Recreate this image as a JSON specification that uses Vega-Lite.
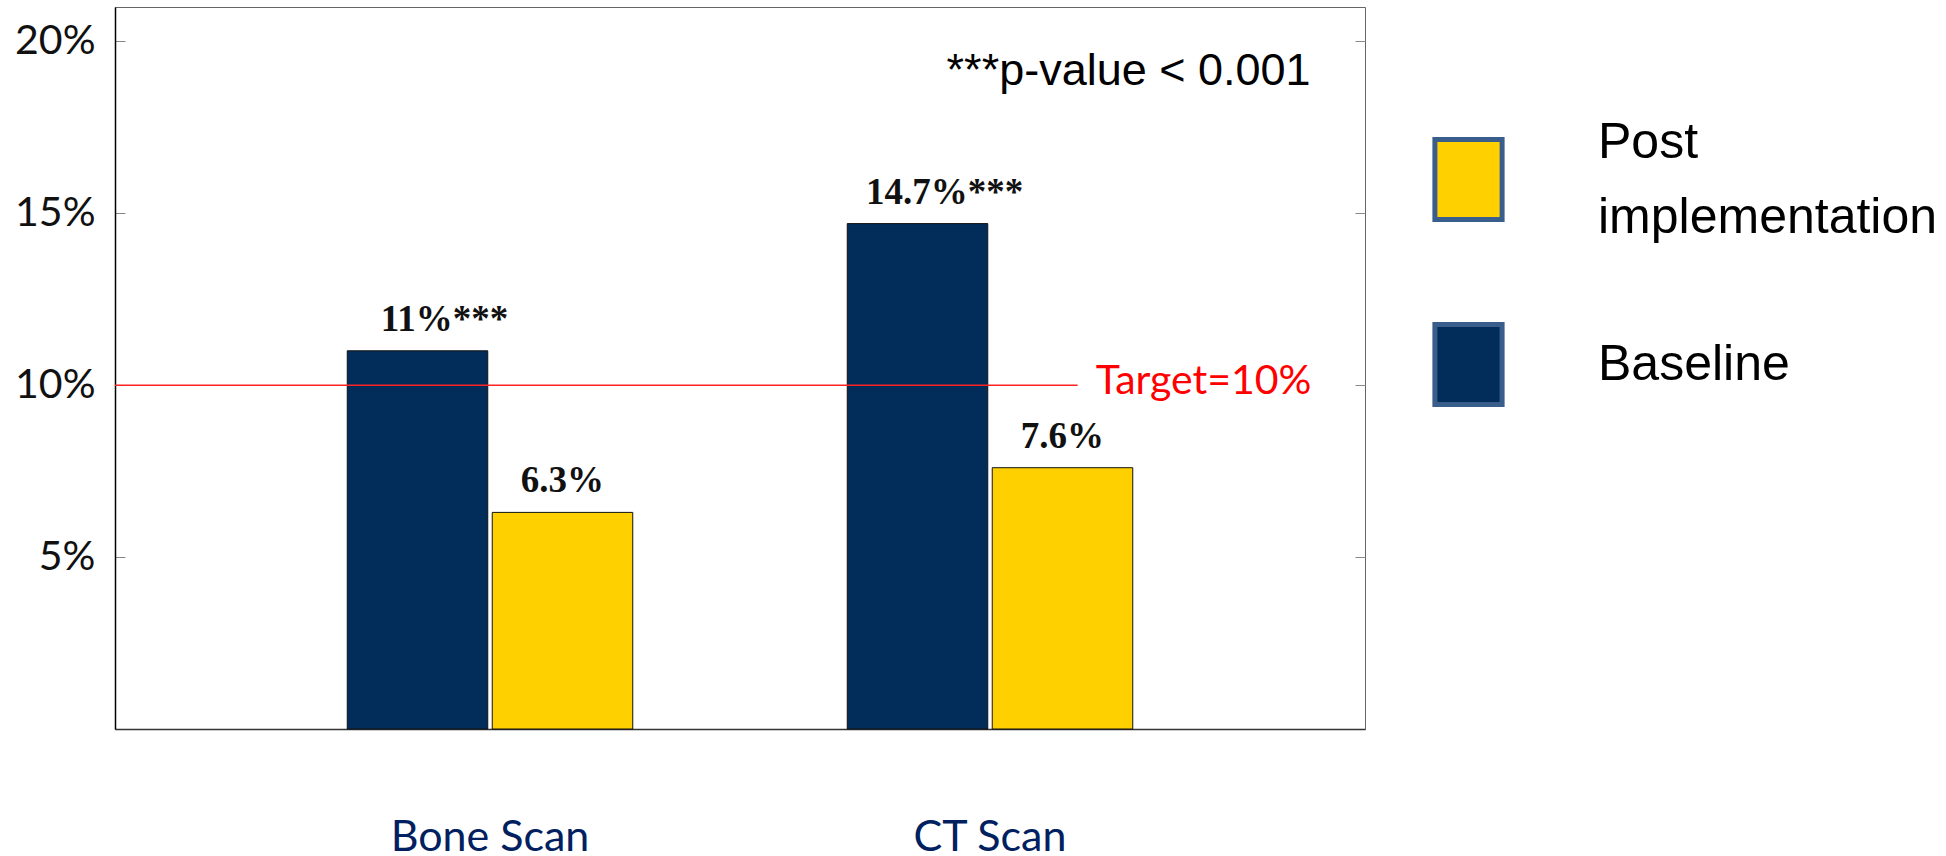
{
  "$schema": "https://vega.github.io/schema/vega-lite/v6.json",
  "width": 1250,
  "height": 722,
  "autosize": {"type": "none"},
  "padding": {"left": 115, "top": 7, "right": 581, "bottom": 127},
  "background": "white",
  "config": {
    "view": {"stroke": "#666", "strokeWidth": 1},
    "axisX": {"labelExpr": "datum.label == 'Bone Scan' ? 'Bone Scan\u00a0\u00a0\u00a0\u00a0\u00a0' : datum.label"}
  },
  "datasets": {
    "bars": [
      {"scan": "Bone Scan", "group": "Baseline", "value": 11, "sig": "***"},
      {"scan": "Bone Scan", "group": "Post implementation", "value": 6.3, "sig": ""},
      {"scan": "CT Scan", "group": "Baseline", "value": 14.7, "sig": "***"},
      {"scan": "CT Scan", "group": "Post implementation", "value": 7.6, "sig": ""}
    ],
    "target": [{"label": "Target=10%", "value": 10}],
    "note": [{"label": "***p-value < 0.001", "value": 18.73}]
  },
  "resolve": {"axis": {"y": "independent"}},
  "layer": [
    {
      "data": {"name": "bars"},
      "mark": {"type": "bar", "stroke": "#111", "strokeWidth": 1},
      "encoding": {
        "x": {
          "field": "scan", "type": "nominal", "title": null,
          "scale": {"paddingInner": 0.429, "paddingOuter": 0.4645},
          "axis": {
            "title": null, "ticks": false, "domain": true, "domainColor": "#333", "domainWidth": 1.5,
            "labelAngle": 0, "labelPadding": 121, "labelBaseline": "alphabetic", "labelLimit": 500,
            "labelFont": "Lato", "labelFontSize": 43, "labelColor": "#002060",
            "encode": {"labels": {"update": {"dx": {"signal": "datum.value == 'Bone Scan' ? -22 : -2"}}}}
          }
        },
        "xOffset": {
          "field": "group", "type": "nominal",
          "scale": {"domain": ["Baseline", "Post implementation"], "paddingInner": 0.031, "paddingOuter": 0}
        },
        "y": {
          "field": "value", "type": "quantitative", "title": null,
          "scale": {"domain": [0, 21], "nice": false},
          "axis": {
            "title": null, "values": [5, 10, 15, 20], "labelExpr": "datum.value + '%'",
            "grid": false, "domain": true, "domainColor": "#000", "domainWidth": 1.5,
            "tickColor": "#888", "tickSize": -10, "labelPadding": 30,
            "labelFont": "Lato", "labelFontSize": 41, "labelColor": "#111"
          }
        },
        "color": {
          "field": "group", "type": "nominal",
          "scale": {"domain": ["Baseline", "Post implementation"], "range": ["#022D5B", "#FFD000"]},
          "legend": {
            "orient": "none", "legendX": 1311, "legendY": 130, "title": null,
            "values": ["Post implementation", "Baseline"],
            "symbolType": "M-0.84,-1L0.84,-1L0.84,1L-0.84,1Z", "symbolSize": 6400,
            "symbolStrokeColor": "#3A5E8C", "symbolStrokeWidth": 5,
            "labelFont": "Liberation Sans", "labelFontSize": 50,
            "labelOffset": 87, "labelLimit": 700, "rowPadding": 71, "padding": 0, "labelColor": "#000",
            "labelExpr": "datum.label == 'Post implementation' ? ['Post', 'implementation'] : datum.label",
            "encode": {
              "symbols": {
                "update": {
                  "fill": {"signal": "datum.value == 'Baseline' ? '#001F5C' : '#FFC000'"},
                  "stroke": {"value": "#3A5E8C"},
                  "strokeWidth": {"value": 5},
                  "opacity": {"value": 1}
                }
              },
              "labels": {
                "update": {
                  "lineHeight": {"value": 75},
                  "dy": {"signal": "datum.value == 'Baseline' ? 0 : -37"}
                }
              }
            }
          }
        }
      }
    },
    {
      "data": {"name": "bars"},
      "transform": [
        {"filter": "datum.sig != ''"},
        {"calculate": "datum.value + '%' + datum.sig", "as": "label"}
      ],
      "mark": {"type": "text", "align": "center", "baseline": "alphabetic", "dy": -20, "dx": 27,
               "font": "Liberation Serif", "fontWeight": "bold", "fontSize": 37, "color": "#111"},
      "encoding": {
        "x": {"field": "scan", "type": "nominal"},
        "xOffset": {"field": "group", "type": "nominal"},
        "y": {"field": "value", "type": "quantitative", "axis": null},
        "text": {"field": "label"}
      }
    },
    {
      "data": {"name": "bars"},
      "transform": [
        {"filter": "datum.sig == ''"},
        {"calculate": "datum.value + '%'", "as": "label"}
      ],
      "mark": {"type": "text", "align": "center", "baseline": "alphabetic", "dy": -20,
               "font": "Liberation Serif", "fontWeight": "bold", "fontSize": 37, "color": "#111"},
      "encoding": {
        "x": {"field": "scan", "type": "nominal"},
        "xOffset": {"field": "group", "type": "nominal"},
        "y": {"field": "value", "type": "quantitative", "axis": null},
        "text": {"field": "label"}
      }
    },
    {
      "data": {"name": "target"},
      "mark": {"type": "rule", "color": "#F22", "strokeWidth": 1.5},
      "encoding": {
        "x": {"datum": "Bone Scan", "bandPosition": -0.8136},
        "x2": {"datum": "CT Scan", "bandPosition": 0.807},
        "y": {
          "field": "value", "type": "quantitative",
          "axis": {"orient": "right", "title": null, "values": [5, 10, 15, 20], "labels": false,
                   "domain": false, "grid": false, "tickSize": -10, "tickColor": "#888"}
        }
      }
    },
    {
      "data": {"name": "target"},
      "mark": {"type": "text", "align": "left", "baseline": "alphabetic", "dy": 9,
               "font": "Lato", "fontSize": 41, "color": "#FF0000"},
      "encoding": {
        "x": {"datum": "CT Scan", "bandPosition": 0.87},
        "y": {"field": "value", "type": "quantitative", "axis": null},
        "text": {"field": "label"}
      }
    },
    {
      "data": {"name": "note"},
      "mark": {"type": "text", "align": "left", "baseline": "alphabetic",
               "font": "Liberation Sans", "fontSize": 45, "color": "#000"},
      "encoding": {
        "x": {"datum": "CT Scan", "bandPosition": 0.348},
        "y": {"field": "value", "type": "quantitative", "axis": null},
        "text": {"field": "label"}
      }
    }
  ]
}
